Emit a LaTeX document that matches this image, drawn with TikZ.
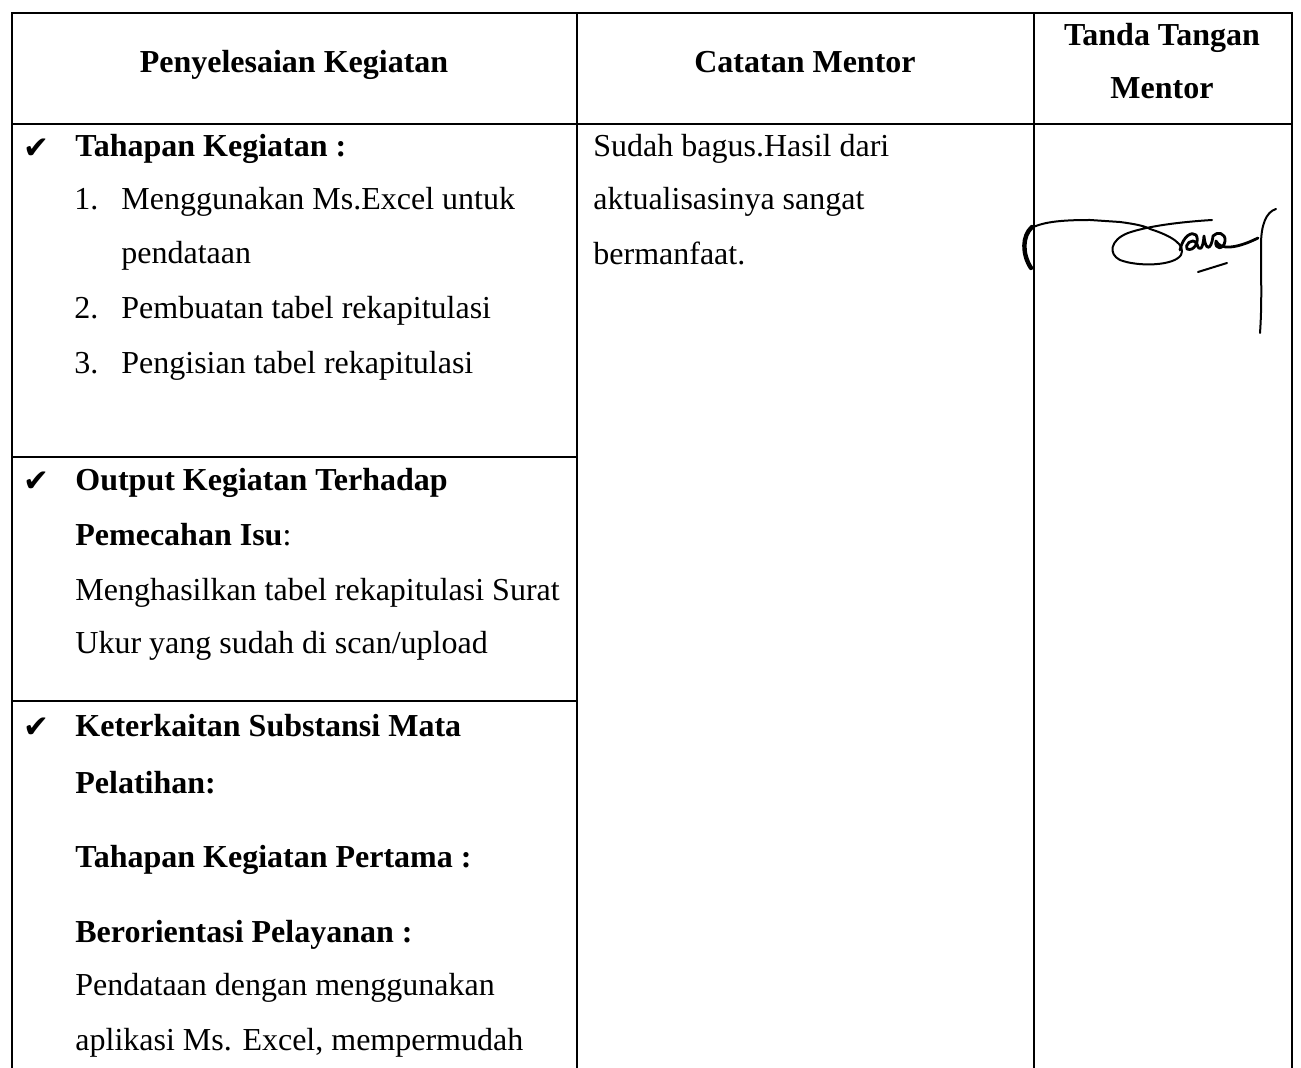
\documentclass[tikz,border=0pt]{standalone}
\usepackage{fontspec}
\setmainfont{Liberation Serif}
\newfontfamily\symfont{DejaVu Sans}
\begin{document}
\begin{tikzpicture}[x=0.5pt,y=-0.5pt,
  grid/.style={line width=1pt,black},
  txt/.style={anchor=base west,inner sep=0pt,font=\fontsize{16pt}{19pt}\selectfont},
  btxt/.style={txt,font=\fontsize{16pt}{19pt}\selectfont\bfseries},
  hd/.style={anchor=base,inner sep=0pt,font=\fontsize{16pt}{19pt}\selectfont\bfseries},
  chk/.style={anchor=base west,inner sep=0pt,font=\fontsize{15.5pt}{17pt}\symfont},
  sig/.style={line width=1pt,line cap=round,line join=round}]
\useasboundingbox (0,0) rectangle (1301,1068);
\fill[white] (0,0) rectangle (1301,1068);
% grid
\draw[grid] (12,1068) -- (12,13) -- (1292,13) -- (1292,1068);
\draw[grid] (12,124) -- (1292,124);
\draw[grid] (577,13) -- (577,1068);
\draw[grid] (1034,13) -- (1034,1068);
\draw[grid] (12,457) -- (577,457);
\draw[grid] (12,701) -- (577,701);
% header
\node[hd] (h1) at (294,73) {Penyelesaian Kegiatan};
\node[hd] (h2) at (805,73) {Catatan Mentor};
\node[hd] (h3a) at (1162,46) {Tanda Tangan};
\node[hd] (h3b) at (1162,99) {Mentor};
% column 1
\node[chk] (c1) at (23,159) {✔};
\node[btxt] (t1) at (75,157) {Tahapan Kegiatan :};
\node[txt] (n1) at (74,210) {1.};
\node[txt] (i1) at (121,210) {Menggunakan Ms.Excel untuk};
\node[txt] (i1b) at (121,264) {pendataan};
\node[txt] (n2) at (74,319) {2.};
\node[txt] (i2) at (121,319) {Pembuatan tabel rekapitulasi};
\node[txt] (n3) at (74,374) {3.};
\node[txt] (i3) at (121,374) {Pengisian tabel rekapitulasi};
\node[chk] (c2) at (23,492) {✔};
\node[btxt] (t2) at (75,491) {Output Kegiatan Terhadap};
\node[txt] (t2b) at (75,546) {\textbf{Pemecahan Isu}:};
\node[txt] (o1) at (75,601) {Menghasilkan tabel rekapitulasi Surat};
\node[txt] (o2) at (75,654) {Ukur yang sudah di scan/upload};
\node[chk] (c3) at (23,738) {✔};
\node[btxt] (t3) at (75,737) {Keterkaitan Substansi Mata};
\node[btxt] (t3b) at (75,793) {Pelatihan:};
\node[btxt] (t4) at (75,867) {Tahapan Kegiatan Pertama :};
\node[btxt] (t5) at (75,942) {Berorientasi Pelayanan :};
\node[txt] (p1) at (75,995) {Pendataan dengan menggunakan};
\node[txt] (p2) at (75,1050) {aplikasi Ms. Excel, mempermudah};
% column 2
\node[txt] (m1) at (593,157) {Sudah bagus.Hasil dari};
\node[txt] (m2) at (593,210) {aktualisasinya sangat};
\node[txt] (m3) at (593,265) {bermanfaat.};
% signature
\draw[sig,line width=2.2pt] (1032,227) .. controls (1022,236) and (1022,254) .. (1031,268);
\draw[sig] (1028,230) .. controls (1040,222) and (1060,220) .. (1090,220) -- (1120,222)
  .. controls (1135,224) and (1145,226) .. (1150,229)
  .. controls (1172,236) and (1186,245) .. (1181,255)
  .. controls (1174,266) and (1138,267) .. (1120,260)
  .. controls (1108,254) and (1110,240) .. (1128,233)
  .. controls (1148,226) and (1180,222) .. (1212,220);
\draw[sig,line width=1.4pt] (1180,250) .. controls (1183,236) and (1192,231) .. (1196,235)
  .. controls (1200,241) and (1194,252) .. (1187,249)
  .. controls (1184,246) and (1192,236) .. (1197,244)
  .. controls (1199,252) and (1203,250) .. (1204,236)
  .. controls (1205,250) and (1211,252) .. (1213,236)
  .. controls (1217,231) and (1226,233) .. (1225,241)
  .. controls (1224,250) and (1214,250) .. (1216,241)
  .. controls (1220,250) and (1236,249) .. (1258,238);
\draw[sig] (1198,272) -- (1227,263);
\draw[sig] (1276,209) .. controls (1266,212) and (1261,225) .. (1261,245)
  .. controls (1261,280) and (1262,305) .. (1260,333);
\end{tikzpicture}
\end{document}
